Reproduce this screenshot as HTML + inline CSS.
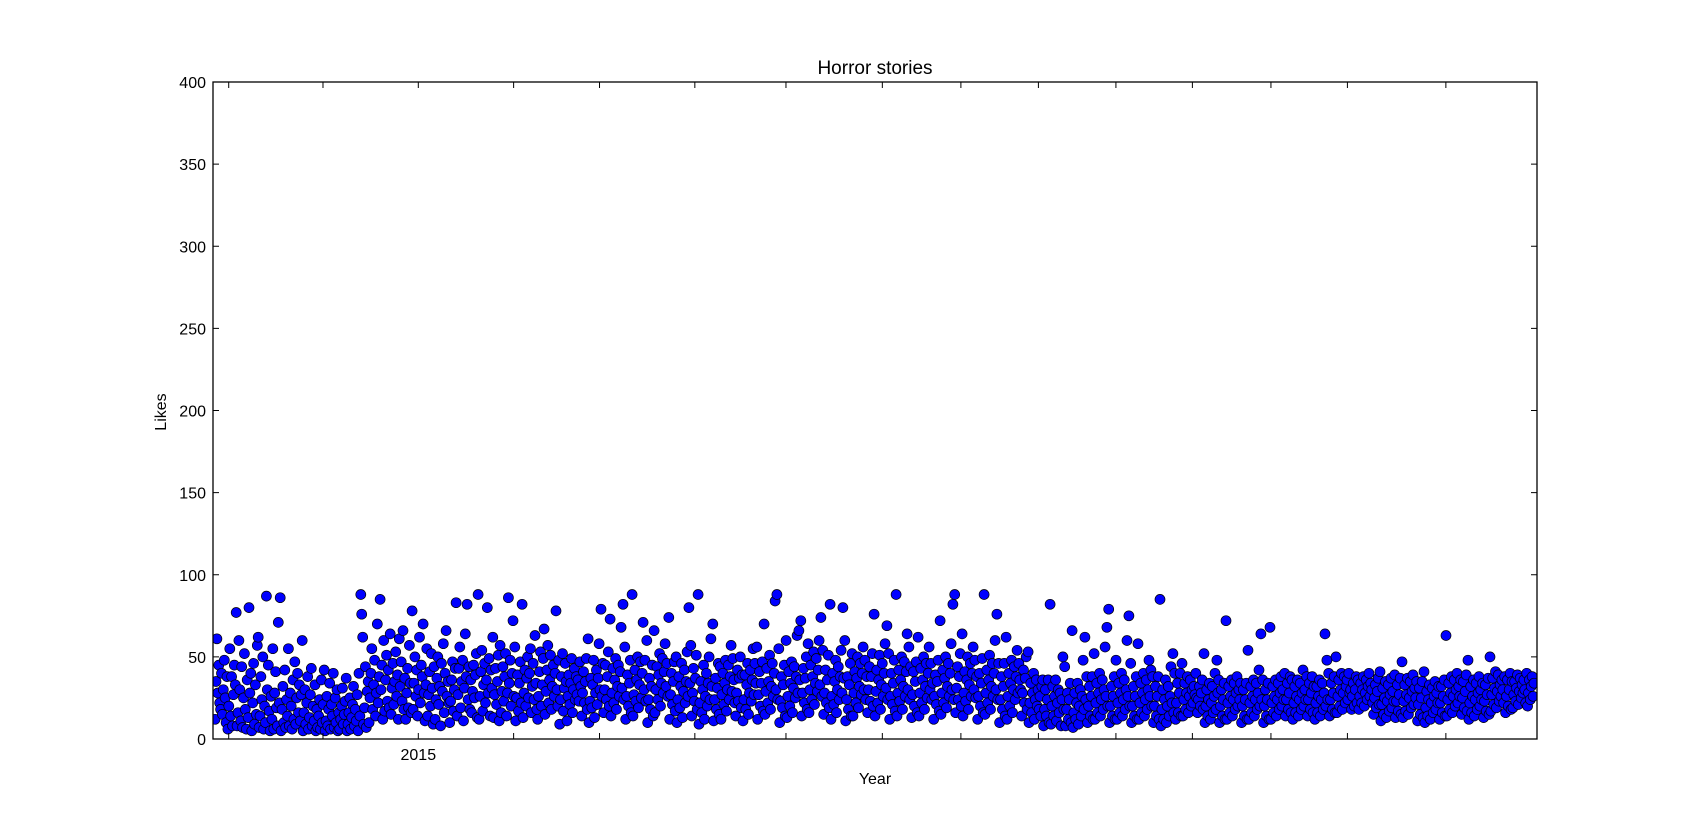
<!DOCTYPE html>
<html><head><meta charset="utf-8"><style>
html,body{margin:0;padding:0;background:#fff;}
svg{display:block;font-family:"Liberation Sans","DejaVu Sans",sans-serif;}
</style></head><body>
<svg id="chart" width="1707" height="821"></svg>
<script>
const columnStep = 21;
const columnLikes = [
[12,35,61,28,45,22,18,40,15,30,48,25,10,38,6,20,55,14,38,8,27,45,33,77],
[8,16,60,30,11,44,7,25,52,18,6,36,13,80,28,40,5,22,46,9,33,15,57,62],
[7,14,38,24,50,6,20,10,87,30,45,17,5,26,12,55,6,28,41,19,8,71,22,86],
[5,18,32,10,42,7,24,14,55,8,28,20,6,36,12,47,9,25,40,16,33,11,27,60],
[5,16,30,9,22,38,6,13,27,43,8,20,11,33,5,18,7,14,24,6,36,10,21,42],
[5,11,26,8,18,34,6,21,14,40,7,25,10,30,5,16,6,12,20,31,9,15,23,37],
[5,9,16,25,6,13,21,32,8,18,11,27,5,40,14,88,76,62,9,19,44,7,29,35],
[10,25,40,55,18,33,48,14,28,70,22,38,85,30,45,12,60,17,36,51,23,42,19,64],
[15,31,46,21,35,53,26,39,12,61,32,47,23,66,18,37,12,28,43,19,57,34,16,78],
[18,34,50,26,42,14,30,62,22,45,38,70,28,11,33,55,14,27,41,20,52,31,9,44],
[12,24,37,50,21,32,8,46,29,58,16,40,66,26,35,22,10,23,36,47,17,30,43,83],
[14,27,43,56,19,35,48,11,31,64,38,82,24,44,18,36,16,29,45,25,39,52,13,88],
[12,26,41,54,17,33,46,22,36,80,28,49,14,42,31,62,13,27,43,21,35,51,11,57],
[16,29,44,23,38,52,14,28,86,34,48,20,40,72,26,56,11,25,39,17,34,47,22,82],
[13,28,42,20,37,50,25,40,55,16,32,46,24,63,34,18,12,26,41,53,20,33,49,67],
[15,29,42,57,22,36,51,18,32,45,26,40,78,30,20,48,9,24,38,52,17,31,46,35],
[11,26,39,21,34,49,16,30,43,24,38,27,36,23,47,32,14,28,41,22,35,49,18,61],
[10,23,37,19,33,48,13,28,42,21,37,58,30,79,26,46,16,30,45,24,38,53,20,73],
[14,28,43,22,36,49,18,32,45,26,41,68,31,82,24,56,12,26,39,20,34,48,16,88],
[14,27,42,23,36,50,19,33,47,25,40,71,30,48,23,60,10,24,37,18,32,45,14,66],
[16,30,44,24,39,52,20,34,49,28,41,58,32,46,26,74,12,27,40,21,35,47,17,50],
[10,24,38,19,32,46,13,29,42,22,35,53,26,80,34,57,14,28,43,23,37,51,18,88],
[9,22,35,16,30,45,12,26,40,20,34,50,24,61,32,70,11,24,37,18,31,46,15,44],
[12,27,40,21,34,48,17,30,45,24,38,57,29,49,36,22,14,28,42,23,37,50,19,39],
[11,24,39,18,33,46,15,28,42,23,36,55,27,46,34,56,12,27,41,20,34,47,17,70],
[15,29,43,22,35,51,18,32,46,26,40,84,30,88,24,55,10,23,38,19,33,45,14,60],
[13,26,41,20,34,47,16,31,44,25,38,63,28,66,36,72,14,28,43,22,37,50,18,58],
[16,30,45,24,38,53,21,34,49,29,42,60,33,74,26,54,15,28,42,22,36,51,19,82],
[12,26,40,21,35,48,16,30,44,24,38,54,28,80,37,60,11,24,38,18,33,46,14,52],
[14,28,41,22,37,50,19,32,46,27,40,56,30,48,24,38,16,30,44,23,38,52,20,76],
[14,29,42,22,36,51,18,33,46,26,40,58,31,69,24,52,12,26,40,21,34,48,17,88],
[14,28,42,23,36,50,18,32,47,26,41,64,30,56,24,44,13,27,41,20,35,47,16,62],
[14,28,43,22,36,50,18,32,46,25,40,56,30,46,24,34,12,26,39,21,35,48,17,72],
[15,28,42,22,37,50,19,32,46,26,40,58,30,82,24,88,16,31,44,24,38,52,20,64],
[14,28,41,23,36,50,18,33,46,26,40,56,30,48,25,38,12,26,40,20,34,49,16,88],
[15,28,42,22,36,51,18,32,46,26,40,60,30,76,24,46,10,24,38,18,32,46,14,62],
[12,26,40,20,34,48,16,30,44,24,38,54,28,46,36,30,14,28,42,22,37,50,18,53],
[10,22,34,16,28,40,12,24,36,20,30,18,26,14,32,36,8,18,30,14,24,36,10,82],
[9,20,32,14,26,36,11,22,30,16,28,8,24,50,18,44,8,18,28,12,24,34,10,66],
[7,16,28,12,22,34,9,20,30,14,26,48,18,62,24,38,10,20,32,14,26,38,12,52],
[12,22,34,16,28,40,14,24,36,18,30,56,26,68,20,79,10,20,32,14,26,38,12,48],
[12,22,34,16,28,40,14,24,36,18,30,60,26,75,20,46,10,20,32,14,26,38,12,58],
[12,22,34,16,28,40,14,24,36,18,30,48,26,42,20,38,10,20,32,14,26,38,12,85],
[8,18,30,12,24,36,10,20,32,14,26,44,22,52,16,40,12,22,34,16,28,40,14,46],
[14,24,34,18,28,38,16,26,36,20,30,22,32,27,40,25,16,24,32,20,28,36,18,52],
[10,20,30,14,24,34,12,22,32,16,26,40,18,48,28,36,10,20,30,14,24,34,12,72],
[12,22,32,16,26,36,14,24,34,18,28,38,20,30,24,34,10,20,30,14,24,34,12,54],
[12,22,32,16,26,36,14,24,34,18,28,42,20,64,24,36,10,20,30,14,24,34,12,68],
[12,22,32,16,26,36,14,24,34,18,28,38,20,30,24,40,14,24,34,18,28,38,16,36],
[12,22,32,16,26,36,14,24,34,18,28,42,20,30,24,38,14,24,34,18,28,38,16,32],
[12,22,32,16,26,36,14,24,34,18,28,64,20,48,24,40,14,24,34,18,28,38,16,50],
[16,26,36,20,30,40,18,28,38,22,32,36,24,40,28,30,18,26,34,20,30,38,22,36],
[18,26,34,22,30,38,20,28,36,24,32,40,26,34,30,22,15,25,33,19,29,37,21,41],
[11,21,31,15,25,35,13,23,33,17,27,37,19,29,23,39,13,23,33,17,27,37,15,47],
[13,23,33,17,27,37,15,25,35,19,29,39,21,31,25,35,11,21,31,15,25,35,13,41],
[10,19,29,14,24,33,12,22,31,16,26,35,18,28,22,32,12,22,32,16,26,36,14,63],
[14,24,34,18,28,38,16,26,36,20,30,40,22,32,26,36,15,25,35,19,29,39,17,48],
[12,22,32,16,26,36,14,24,34,18,28,38,20,30,24,34,13,23,33,17,27,37,15,50],
[17,27,37,21,31,41,19,29,39,23,33,26,36,30,22,38,16,26,36,20,30,40,18,35],
[19,27,35,23,31,39,21,29,37,25,33,28,36,30,22,40,20,28,36,24,32,38,26,34]
];
const yTicks = [0,50,100,150,200,250,300,350,400];
const xTickDays = [13,103,194,285,367,458,545,637,712,786,860,933,1008,1081,1175];
const xTickLabels = ["","","2015","","","","","","","","","","","",""];

const NS="http://www.w3.org/2000/svg";
const svg=document.getElementById('chart');
const L=213,R=1537,T=82,B=739;
const xMin=-2,xMax=1262,yMin=0,yMax=400;
function xs(d){return L+(d-xMin)/(xMax-xMin)*(R-L);}
function ys(v){return B-(v-yMin)/(yMax-yMin)*(B-T);}
function mk(tag,attrs){const e=document.createElementNS(NS,tag);for(const k in attrs)e.setAttribute(k,attrs[k]);svg.appendChild(e);return e;}

const clip=mk('clipPath',{id:'pc'});
const cr=document.createElementNS(NS,'rect');
cr.setAttribute('x',L);cr.setAttribute('y',T);cr.setAttribute('width',R-L);cr.setAttribute('height',B-T);
clip.appendChild(cr);
const g=document.createElementNS(NS,'g');


g.setAttribute('clip-path','url(#pc)');
svg.appendChild(g);
columnLikes.forEach((col,ci)=>{
  col.forEach((v,j)=>{
    const d=ci*columnStep+j*columnStep/col.length;
    const c=document.createElementNS(NS,'circle');
    c.setAttribute('cx',xs(d).toFixed(1));
    c.setAttribute('cy',ys(v).toFixed(1));
    c.setAttribute('r',5);
    c.setAttribute('fill','#0000ff');
    c.setAttribute('stroke','#000');
    c.setAttribute('stroke-width','0.7');
    
    
    g.appendChild(c);
  });
});

const fr=mk('rect',{x:L,y:T,width:R-L,height:B-T,fill:'none',stroke:'#000','stroke-width':1.3});



yTicks.forEach(v=>{
  const y=ys(v);
  mk('line',{x1:L,x2:L+6,y1:y,y2:y,stroke:'#000'});
  mk('line',{x1:R,x2:R-6,y1:y,y2:y,stroke:'#000'});
  const t=mk('text',{x:L-7,y:y+6,'text-anchor':'end','font-size':16,fill:'#000'});
  t.textContent=v;
  
  
});
xTickDays.forEach((d,i)=>{
  const x=xs(d);
  if(x<L||x>R)return;
  mk('line',{x1:x,x2:x,y1:B,y2:B-6,stroke:'#000'});
  mk('line',{x1:x,x2:x,y1:T,y2:T+6,stroke:'#000'});
  if(xTickLabels[i]){
    const t=mk('text',{x:x,y:B+21,'text-anchor':'middle','font-size':16,fill:'#000'});
    t.textContent=xTickLabels[i];
    
    
  }
});
const title=mk('text',{x:(L+R)/2,y:74,'text-anchor':'middle','font-size':19,fill:'#000'});
title.textContent='Horror stories';


const xl=mk('text',{x:(L+R)/2,y:784,'text-anchor':'middle','font-size':16,fill:'#000'});
xl.textContent='Year';


const yl=mk('text',{x:166,y:412,'text-anchor':'middle','font-size':16,fill:'#000',transform:'rotate(-90 166 412)'});
yl.textContent='Likes';


</script>
</body></html>
